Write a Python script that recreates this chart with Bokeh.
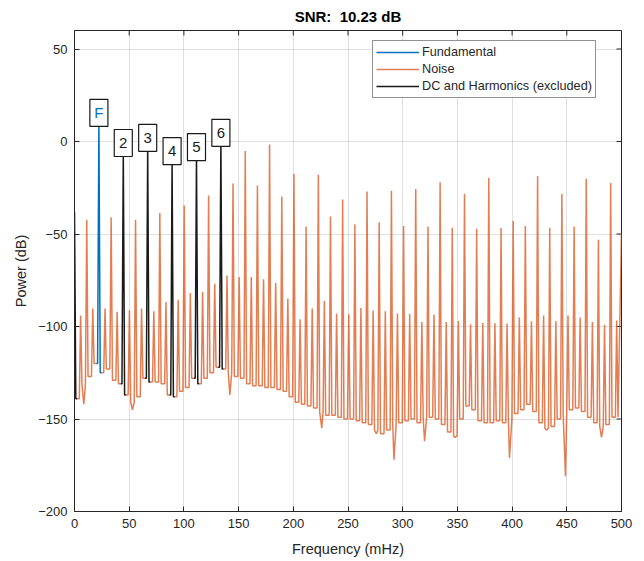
import math
from bokeh.plotting import figure
from bokeh.models import (ColumnDataSource, Legend, LegendItem, FixedTicker, Range1d)
from bokeh.embed import file_html
from bokeh.resources import INLINE
from bokeh.core.properties import value

# ---------------- data ----------------
title_text = "SNR:\u00a0 10.23 dB"
x_label = "Frequency (mHz)"
y_label = "Power (dB)"
x_ticks = [0, 50, 100, 150, 200, 250, 300, 350, 400, 450, 500]
y_ticks = [-200, -150, -100, -50, 0, 50]

# noise spectral lines (orange): frequency (mHz), peak (dB), floor after the peak (dB)
noise_f = [5.6, 11.2, 16.7, 27.9, 33.5, 39.0, 50.2, 55.8, 61.3, 72.5, 78.0, 83.6,
           94.8, 100.3, 105.9, 117.1, 122.6, 128.2,
           139.4, 144.9, 150.5, 156.1, 161.6, 167.2, 172.8, 178.3, 183.9, 189.5,
           195.0, 200.6, 206.2, 211.7, 217.3, 222.9, 228.4, 234.0, 239.6, 245.1,
           250.7, 256.3, 261.8, 267.4, 273.0, 278.5, 284.1, 289.7, 295.2, 300.8,
           306.4, 311.9, 317.5, 323.1, 328.6, 334.2, 339.8, 345.3, 350.9, 356.5,
           362.0, 367.6, 373.2, 378.7, 384.3, 389.9, 395.4, 401.0, 406.6, 412.1,
           417.7, 423.3, 428.8, 434.4, 440.0, 445.5, 451.1, 456.7, 462.2, 467.8,
           473.4, 478.9, 484.5, 490.1, 495.6]
noise_peak_db = [-94, -42.3, -90.3, -90.3, -40.9, -92, -91.2, -42.3, -90.3, -91.8, -38.7, -86.8,
                 -85.5, -34.6, -81.9, -81.4, -29.2, -76.9,
                 -72.4, -22.7, -73.3, -5.2, -73.3, -23.8, -74.5, -1.6, -76.3, -29.7,
                 -84.9, -17.5, -96.1, -45.9, -90.3, -18.0, -86.2, -40.5, -93.0, -31.3,
                 -93.4, -44.8, -90.0, -27.0, -91.3, -43.6, -91.8, -26.6, -93.0, -45.7,
                 -93.3, -25.7, -97.6, -45.9, -93.5, -22.0, -97.6, -46.6, -97.0, -28.3,
                 -98.8, -47.2, -98.1, -19.6, -98.3, -46.8, -98.4, -43.0, -95.0, -45.7,
                 -97.2, -18.7, -94.0, -46.6, -97.2, -28.4, -94.0, -45.9, -95.2, -20.2,
                 -97.6, -53.1, -99.0, -22.5, -96.7]
noise_floor_db = [-131, -127, -120, -123, -129, -131, -141, -138, -128, -130, -131, -137,
                  -135, -133, -128, -128, -125, -122,
                  -125, -127, -128, -131, -132, -132, -133, -133, -134, -135,
                  -138, -141, -142, -143, -144, -146, -148, -148, -149, -150,
                  -150, -151, -152, -153, -156, -158, -156, -153, -152, -151,
                  -150, -152, -149, -149, -150, -153, -157, -159, -150, -143,
                  -145, -151, -152, -152, -151, -152, -150, -147, -145, -142,
                  -146, -152, -155, -154, -150, -148, -145, -144, -146, -149,
                  -152, -154, -153, -149, -149]
# narrow dips of the noise floor
dip_f = [8.5, 53.0, 142.0, 226.0, 276.0, 292.0, 320.0, 342.5, 348.0, 397.6, 431.5, 448.8, 481.7]
dip_db = [-142, -145, -137, -155, -158, -172, -162, -157, -160, -171, -156, -181, -160]
end_f = 500.0
end_db = -49.7

# fundamental (blue)
fund_f = 22.3
fund_peak_db = 10.4
fund_floor_db = -125

# DC and harmonics (black)
harm_f = [0.0, 44.6, 66.9, 89.2, 111.5, 133.8]
harm_peak_db = [-38, -5.9, -3.1, -10.3, -8.1, -0.4]
harm_floor_db = [-139, -137, -130, -138, -131, -123]
harm_labels = ["", "2", "3", "4", "5", "6"]

# ---------------- build the polylines ----------------
W = 1.2  # half width of a spectral spike (mHz) - drawing style
nan = float("nan")
lines = [(f, pk, fl, "noise") for f, pk, fl in zip(noise_f, noise_peak_db, noise_floor_db)]
lines.append((fund_f, fund_peak_db, fund_floor_db, "fund"))
lines += [(f, pk, fl, "harm") for f, pk, fl in zip(harm_f, harm_peak_db, harm_floor_db)]
lines.sort(key=lambda t: t[0])

orange = []
blue = []
black = []
prev = None
for f, pk, fl, kind in lines:
    if kind == "noise":
        orange += [(f - W, prev), (f, pk), (f + W, fl)]
    else:
        seg = []
        if prev is not None:
            seg += [(f - 2 * W, prev), (f - W, prev)]
            orange.append((f - 2 * W, prev))
        seg += [(f, pk), (f + W, fl), (f + 2 * W, fl)]
        orange += [(f, nan), (f + 2 * W, fl)]
        target = blue if kind == "fund" else black
        if target:
            target.append((f, nan))
        target += seg
    prev = fl
orange.append((end_f, end_db))
orange += list(zip(dip_f, dip_db))
orange.sort(key=lambda t: t[0])

src_noise = ColumnDataSource(dict(x=[a for a, b in orange], y=[b for a, b in orange]))
src_fund = ColumnDataSource(dict(x=[a for a, b in blue], y=[b for a, b in blue]))
src_harm = ColumnDataSource(dict(x=[a for a, b in black], y=[b for a, b in black]))

# labels
lab_f = [fund_f] + harm_f[1:]
lab_db = [fund_peak_db] + harm_peak_db[1:]
lab_text = ["F"] + harm_labels[1:]
lab_color = ["#0072BD"] + ["#1a1a1a"] * (len(lab_text) - 1)
BOX_W, BOX_H, BOX_LIFT = 16.5, 14.6, 5.1  # box size / offset (style)
src_lab = ColumnDataSource(dict(x=lab_f, y=[d + BOX_LIFT for d in lab_db],
                                t=lab_text, c=lab_color))

# ---------------- figure ----------------
FONT = "Liberation Sans"
AX = "#262626"
X0, X1, Y0, Y1 = 0, 500, -200, 60
p = figure(width=644, height=561, x_range=Range1d(X0, X1), y_range=Range1d(Y0, Y1),
           output_backend="svg", toolbar_location=None,
           min_border_left=74, min_border_right=23, min_border_top=30, min_border_bottom=50,
           title=title_text)
p.title.align = "center"
p.title.text_font = FONT
p.title.text_font_size = "15px"
p.title.text_font_style = "bold"
p.title.text_color = "black"
p.title.standoff = 11
p.outline_line_color = AX
p.outline_line_width = 1
p.background_fill_color = "white"
p.border_fill_color = "white"

for ax in (p.xaxis[0], p.yaxis[0]):
    ax.major_tick_in = 5
    ax.major_tick_out = 0
    ax.minor_tick_line_color = None
    ax.axis_line_color = AX
    ax.major_tick_line_color = AX
    ax.major_label_text_font = FONT
    ax.major_label_text_font_size = "13px"
    ax.major_label_text_color = AX
    ax.major_label_standoff = 7
    ax.axis_label_text_font = FONT
    ax.axis_label_text_font_size = "14.5px"
    ax.axis_label_text_font_style = "normal"
    ax.axis_label_text_color = AX
p.xaxis[0].axis_label_standoff = 10
p.yaxis[0].axis_label_standoff = 6
p.xaxis[0].ticker = FixedTicker(ticks=x_ticks)
p.yaxis[0].ticker = FixedTicker(ticks=y_ticks)
p.xaxis[0].axis_label = x_label
p.yaxis[0].axis_label = y_label

# inward ticks on the top and right edges of the box (5 px long)
TX = 5 * (X1 - X0) / 547.0
TY = 5 * (Y1 - Y0) / 481.0
p.segment(x0=x_ticks, y0=[Y1] * len(x_ticks), x1=x_ticks, y1=[Y1 - TY] * len(x_ticks),
          line_color=AX, line_width=1)
p.segment(x0=[X1] * len(y_ticks), y0=y_ticks, x1=[X1 - TX] * len(y_ticks), y1=y_ticks,
          line_color=AX, line_width=1)

p.xgrid.ticker = FixedTicker(ticks=x_ticks)
p.ygrid.ticker = FixedTicker(ticks=y_ticks)
p.grid.grid_line_color = AX
p.grid.grid_line_alpha = 0.15

r_noise = p.line("x", "y", source=src_noise, line_color="#D95319", line_width=1.5, line_alpha=0.75)
r_fund = p.line("x", "y", source=src_fund, line_color="#0072BD", line_width=1.5)
r_harm = p.line("x", "y", source=src_harm, line_color="#1a1a1a", line_width=1.5)

p.rect(x="x", y="y", width=BOX_W, height=BOX_H, source=src_lab,
       fill_color="white", line_color="#1a1a1a", line_width=1.2)
p.text(x="x", y="y", text="t", source=src_lab, text_color="c",
       text_align="center", text_baseline="middle",
       text_font=value(FONT), text_font_size="15px")

legend = Legend(items=[LegendItem(label="Fundamental", renderers=[r_fund]),
                       LegendItem(label="Noise", renderers=[r_noise]),
                       LegendItem(label="DC and Harmonics (excluded)", renderers=[r_harm])],
                location=(298, 413))
legend.label_text_font = FONT
legend.label_text_font_size = "12.7px"
legend.label_text_color = AX
legend.glyph_width = 43
legend.glyph_height = 16
legend.label_height = 16
legend.label_standoff = 3
legend.spacing = 1
legend.padding = 3
legend.margin = 0
legend.border_line_color = AX
legend.border_line_width = 1
legend.background_fill_alpha = 1
p.add_layout(legend)

open("out.html", "w").write(file_html(p, INLINE))
